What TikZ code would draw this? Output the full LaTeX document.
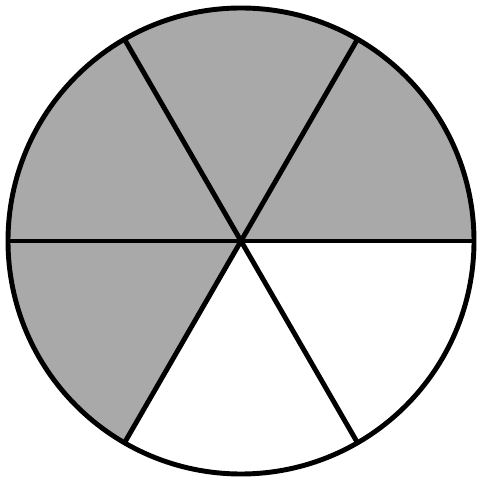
\documentclass[tikz,border=0pt]{standalone}
\usepackage{tikz}
\usepackage{xcolor}
\definecolor{sectorgray}{HTML}{A9A9A9}

\begin{document}
\begin{tikzpicture}[x=0.01cm,y=0.01cm]
    \useasboundingbox (0,0) rectangle (483,488);
    % shaded part: four of six sectors
    \coordinate (c) at (241,247);
    \fill[sectorgray] (c) -- ++(0:233) arc (0:240:233) -- cycle;
    % spokes
    \foreach \a in {0,60,...,300}
        \draw[line width=1.4pt] (c) -- ++(\a:233);
    % rim
    \draw[line width=1.4pt] (c) circle (233);
\end{tikzpicture}
\end{document}
